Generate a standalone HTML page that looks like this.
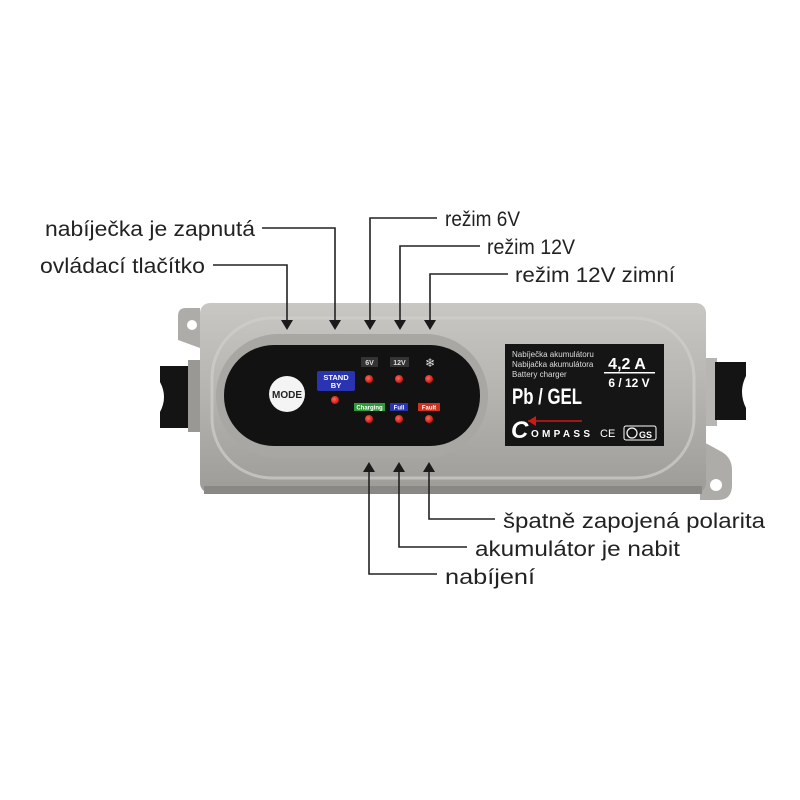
<!DOCTYPE html>
<html><head><meta charset="utf-8"><style>
html,body{margin:0;padding:0;background:#fff;}
svg{display:block;}
text{font-family:"Liberation Sans",sans-serif;}
</style></head><body>
<svg width="800" height="800" viewBox="0 0 800 800" xmlns="http://www.w3.org/2000/svg">
<defs>
<linearGradient id="body" x1="0" y1="0" x2="0" y2="1">
<stop offset="0" stop-color="#c9c7c3"/><stop offset="0.5" stop-color="#b5b3af"/><stop offset="1" stop-color="#9e9c98"/>
</linearGradient>
<radialGradient id="led" cx="0.4" cy="0.4" r="0.6"><stop offset="0" stop-color="#ff6a5a"/><stop offset="1" stop-color="#c4140e"/></radialGradient>
</defs>
<rect width="800" height="800" fill="#fff"/>
<!-- left tab -->
<path d="M200 308 L186 308 Q178 308 178 316 L178 340 L200 348 Z" fill="#aeaca8"/>
<circle cx="192" cy="325" r="5" fill="#fff"/>
<!-- left connector -->
<path d="M160 366 L190 366 L190 428 L160 428 L160 412 Q168 397 160 382 Z" fill="#141414"/>
<rect x="188" y="360" width="13" height="72" fill="#9a9894"/>
<!-- right tab -->
<path d="M700 440 L722 452 Q732 458 732 470 L732 485 Q732 500 718 500 L700 500 Z" fill="#aeaca8"/>
<circle cx="716" cy="485" r="6" fill="#fff"/>
<!-- right connector -->
<rect x="703" y="358" width="14" height="68" fill="#b8b6b2"/>
<path d="M715 362 L746 362 L746 376 Q738 392 746 408 L746 420 L715 420 Z" fill="#141414"/>
<!-- body -->
<rect x="200" y="303" width="506" height="190" rx="10" fill="url(#body)"/>
<rect x="204" y="486" width="498" height="8" fill="#8a8884"/>
<rect x="212" y="318" width="482" height="160" rx="60" fill="none" stroke="#d0ceca" stroke-width="3" opacity="0.7"/>
<!-- panel recess -->
<rect x="216" y="334" width="272" height="124" rx="62" fill="#a9a7a3"/>
<rect x="224" y="345" width="256" height="101" rx="50" fill="#121212"/>
<!-- mode button -->
<circle cx="287" cy="394" r="18" fill="#f4f4f4"/>
<text x="287" y="398" font-size="10" font-weight="bold" text-anchor="middle" fill="#222">MODE</text>
<!-- standby -->
<rect x="317" y="371" width="38" height="20" rx="2" fill="#2a33b0"/>
<text x="336" y="380" font-size="7.5" font-weight="bold" text-anchor="middle" fill="#fff">STAND</text>
<text x="336" y="388" font-size="7.5" font-weight="bold" text-anchor="middle" fill="#fff">BY</text>
<circle cx="335" cy="400" r="4" fill="url(#led)"/>
<!-- top labels -->
<rect x="361" y="357" width="17" height="10" fill="#333"/>
<text x="369.5" y="365" font-size="7" font-weight="bold" text-anchor="middle" fill="#ddd">6V</text>
<rect x="390" y="357" width="19" height="10" fill="#333"/>
<text x="399.5" y="365" font-size="7" font-weight="bold" text-anchor="middle" fill="#ddd">12V</text>
<text x="430" y="367" font-size="12" text-anchor="middle" fill="#ddd">❄</text>
<circle cx="369" cy="379" r="4" fill="url(#led)"/>
<circle cx="399" cy="379" r="4" fill="url(#led)"/>
<circle cx="429" cy="379" r="4" fill="url(#led)"/>
<rect x="354" y="403" width="31" height="8" fill="#2f9a3a"/>
<text x="369.5" y="409.5" font-size="6" font-weight="bold" text-anchor="middle" fill="#fff">Charging</text>
<rect x="390" y="403" width="18" height="8" fill="#2a33b0"/>
<text x="399" y="409.5" font-size="6" font-weight="bold" text-anchor="middle" fill="#fff">Full</text>
<rect x="418" y="403" width="22" height="8" fill="#d0301e"/>
<text x="429" y="409.5" font-size="6" font-weight="bold" text-anchor="middle" fill="#fff">Fault</text>
<circle cx="369" cy="419" r="4" fill="url(#led)"/>
<circle cx="399" cy="419" r="4" fill="url(#led)"/>
<circle cx="429" cy="419" r="4" fill="url(#led)"/>
<!-- label box -->
<rect x="505" y="344" width="159" height="102" fill="#151515"/>
<text x="512" y="357" font-size="8" fill="#ddd">Nabíječka akumulátoru</text>
<text x="512" y="367" font-size="8" fill="#ddd">Nabijačka akumulátora</text>
<text x="512" y="377" font-size="8" fill="#ddd">Battery charger</text>
<text x="627" y="369" font-size="16" font-weight="bold" text-anchor="middle" fill="#fff">4,2 A</text>
<rect x="604" y="372" width="51" height="1.5" fill="#fff"/>
<text x="629" y="387" font-size="12" font-weight="bold" text-anchor="middle" fill="#fff">6 / 12 V</text>
<text x="512" y="404" font-size="22" font-weight="bold" fill="#fff" textLength="70" lengthAdjust="spacingAndGlyphs">Pb / GEL</text>
<text x="511" y="438" font-size="24" font-weight="bold" font-style="italic" fill="#fff">C</text>
<path d="M528 421 L582 421" stroke="#d01818" stroke-width="1.5"/>
<path d="M528 421 L536 416 L536 426 Z" fill="#d01818"/>
<text x="531" y="437" font-size="10" font-weight="bold" fill="#fff" textLength="60" letter-spacing="1">OMPASS</text>
<text x="600" y="437" font-size="11" fill="#fff">CE</text>
<rect x="624" y="426" width="32" height="14" rx="2" fill="none" stroke="#fff" stroke-width="1"/>
<circle cx="632" cy="433" r="5" fill="none" stroke="#fff" stroke-width="1.2"/>
<text x="639" y="438" font-size="9" font-weight="bold" fill="#fff">GS</text>
<!-- connectors -->
<g stroke="#222" stroke-width="1.6" fill="none">
<path d="M262 228 L335 228 L335 320"/>
<path d="M213 265 L287 265 L287 320"/>
<path d="M437 218 L370 218 L370 320"/>
<path d="M480 246 L400 246 L400 320"/>
<path d="M508 274 L430 274 L430 320"/>
<path d="M429 470 L429 519 L495 519"/>
<path d="M399 470 L399 547 L467 547"/>
<path d="M369 470 L369 574 L437 574"/>
</g>
<g fill="#1a1a1a">
<path d="M281 320 L293 320 L287 330 Z"/>
<path d="M329 320 L341 320 L335 330 Z"/>
<path d="M364 320 L376 320 L370 330 Z"/>
<path d="M394 320 L406 320 L400 330 Z"/>
<path d="M424 320 L436 320 L430 330 Z"/>
<path d="M363 472 L375 472 L369 462 Z"/>
<path d="M393 472 L405 472 L399 462 Z"/>
<path d="M423 472 L435 472 L429 462 Z"/>
</g>
<!-- labels -->
<g font-size="21" fill="#222">
<text x="45" y="236" textLength="210" lengthAdjust="spacingAndGlyphs">nabíječka je zapnutá</text>
<text x="40" y="273" textLength="165" lengthAdjust="spacingAndGlyphs">ovládací tlačítko</text>
<text x="445" y="226" textLength="75" lengthAdjust="spacingAndGlyphs">režim 6V</text>
<text x="487" y="254" textLength="88" lengthAdjust="spacingAndGlyphs">režim 12V</text>
<text x="515" y="282" textLength="160" lengthAdjust="spacingAndGlyphs">režim 12V zimní</text>
<text x="503" y="528" textLength="262" lengthAdjust="spacingAndGlyphs">špatně zapojená polarita</text>
<text x="475" y="556" textLength="205" lengthAdjust="spacingAndGlyphs">akumulátor je nabit</text>
<text x="445" y="584" textLength="90" lengthAdjust="spacingAndGlyphs">nabíjení</text>
</g>
</svg>
</body></html>
